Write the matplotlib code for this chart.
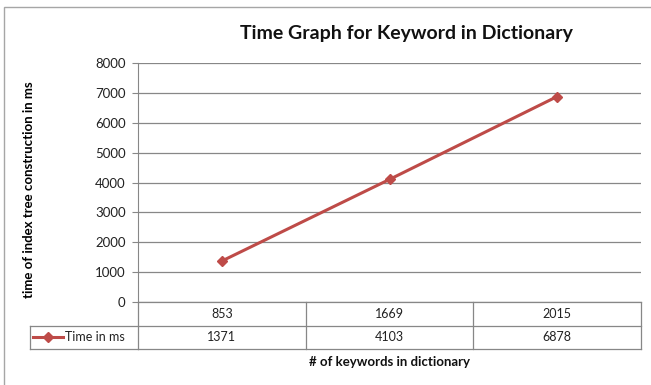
import matplotlib
matplotlib.use("Agg")
import matplotlib.pyplot as plt
from matplotlib.patches import Rectangle
from matplotlib.lines import Line2D
import matplotlib.transforms as mtransforms

plt.rcParams["font.family"] = ["Lato", "DejaVu Sans"]

# data
keywords = ["853", "1669", "2015"]
time_ms = [1371, 4103, 6878]
series_name = "Time in ms"
y_ticks = [0, 1000, 2000, 3000, 4000, 5000, 6000, 7000, 8000]

RED = "#BE4B48"
GRID = "#878787"
W, H = 651, 385

fig = plt.figure(figsize=(W / 100, H / 100), dpi=100)
fig.patch.set_facecolor("white")

# plot area in pixel coords of the reference
left, right, top, bottom = 138, 641, 63, 302
ax = fig.add_axes([left / W, 1 - bottom / H, (right - left) / W, (bottom - top) / H])

x = list(range(len(keywords)))
ax.plot(x, time_ms, color=RED, lw=2.2, marker="D", ms=5, mfc=RED, mec=RED, zorder=3)

ax.set_xlim(-0.5, len(keywords) - 0.5)
ax.set_ylim(0, 8000)
ax.set_yticks(y_ticks)
ax.set_yticklabels([str(v) for v in y_ticks])
ax.yaxis.grid(True, color=GRID, lw=0.9)
ax.set_axisbelow(True)
ax.set_xticks([])
for s in ["top", "right", "bottom"]:
    ax.spines[s].set_visible(False)
ax.spines["left"].set_color(GRID)
ax.tick_params(axis="y", length=4, color=GRID, pad=5, labelsize=9.5, labelcolor="#222222")

ax.set_ylabel("time of index tree construction in ms", fontsize=9.5, fontweight="bold")
ax.yaxis.set_label_coords((35 - left) / (right - left), 0.47)

fig.text(406 / W, 1 - 33 / H, "Time Graph for Keyword in Dictionary", ha="center",
         va="center", fontsize=14, fontweight="bold", color="#111111")

# data table under the plot (x in data units, y in axes units)
trans = mtransforms.blended_transform_factory(ax.transData, ax.transAxes)
row_h = 23.5 / (bottom - top)
lkw = dict(color=GRID, lw=0.9, clip_on=False)
for k in range(len(keywords) + 1):
    ax.add_line(Line2D([k - 0.5, k - 0.5], [0, -2 * row_h], transform=trans, **lkw))
for r in (1, 2):
    ax.add_line(Line2D([-0.5, len(keywords) - 0.5], [-r * row_h, -r * row_h],
                       transform=trans, **lkw))
ax.add_line(Line2D([-0.5, len(keywords) - 0.5], [0, 0], transform=trans, **lkw))
for i, (k, v) in enumerate(zip(keywords, time_ms)):
    ax.text(i, -0.5 * row_h, k, transform=trans, ha="center", va="center",
            fontsize=9, color="#222222")
    ax.text(i, -1.5 * row_h, str(v), transform=trans, ha="center", va="center",
            fontsize=9, color="#222222")

# legend-key cell to the left of the table
cell_l = (30 - left) / (right - left)
ax.add_line(Line2D([cell_l, 0], [-row_h, -row_h], transform=ax.transAxes, **lkw))
ax.add_line(Line2D([cell_l, 0], [-2 * row_h, -2 * row_h], transform=ax.transAxes, **lkw))
ax.add_line(Line2D([cell_l, cell_l], [-row_h, -2 * row_h], transform=ax.transAxes, **lkw))
k0, k1 = (33 - left) / (right - left), (63 - left) / (right - left)
ax.add_line(Line2D([k0, k1], [-1.5 * row_h] * 2, transform=ax.transAxes, color=RED,
                   lw=2.2, clip_on=False))
ax.add_line(Line2D([(k0 + k1) / 2], [-1.5 * row_h], transform=ax.transAxes, color=RED,
                   marker="D", ms=5, clip_on=False))
ax.text((65 - left) / (right - left), -1.5 * row_h, series_name, transform=ax.transAxes,
        ha="left", va="center", fontsize=9, color="#222222")

fig.text((left + right) / 2 / W, 1 - 362 / H, "# of keywords in dictionary", ha="center",
         va="center", fontsize=9.5, fontweight="bold", color="#111111")

# outer chart border
fig.add_artist(Rectangle((4 / W, -0.1), 1.2, 1 - 7 / H + 0.1, transform=fig.transFigure,
                         fill=False, edgecolor="#A6A6A6", lw=1))

fig.savefig("out.png", dpi=100)
